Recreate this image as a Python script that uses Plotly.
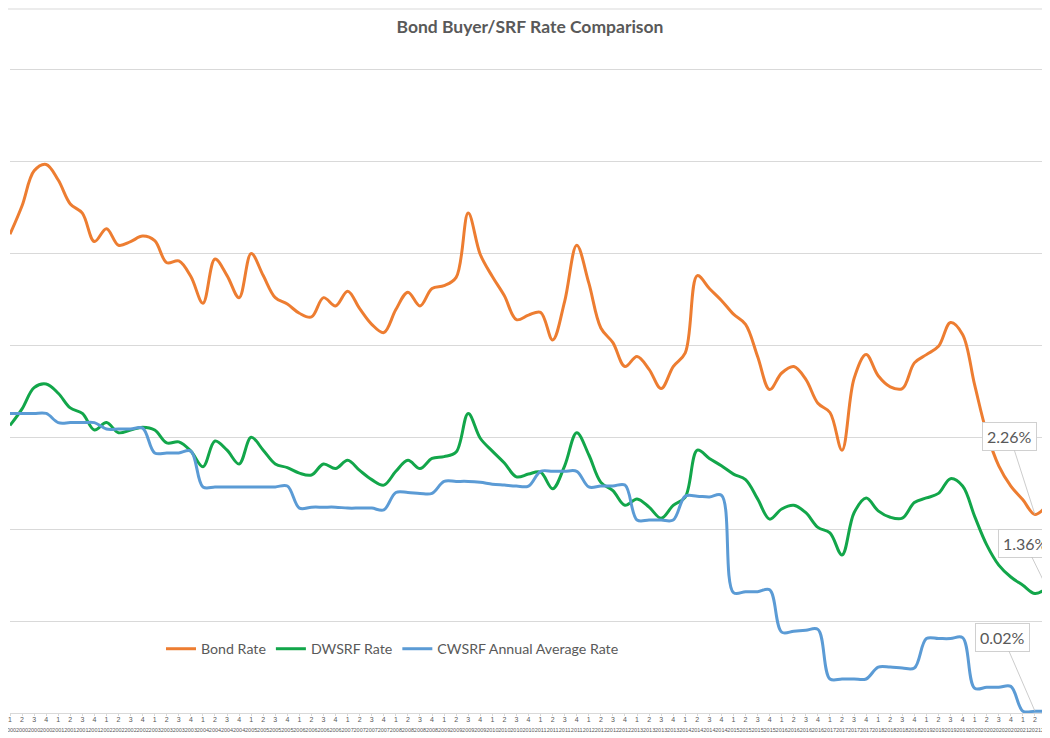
import plotly.graph_objects as go

# ---- category labels (quarters 2000 Q1 .. 2021 Q3) ----
quarter_nums = ["1", "2", "3", "4"]
year_list = [str(y) for y in range(2000, 2022)]
quarters = []
years = []
for y in year_list:
    for q in quarter_nums:
        quarters.append(q)
        years.append(y)
quarters = quarters[:87]
years = years[:87]
categories = [f"{y} Q{q}" for y, q in zip(years, quarters)]

# ---- series values (%) ----
bond_rate = [
    5.21, 5.52, 5.90, 5.97,
    5.80, 5.54, 5.44, 5.13,
    5.27, 5.09, 5.13, 5.19,
    5.14, 4.90, 4.92, 4.75,
    4.46, 4.94, 4.76, 4.52,
    5.00, 4.76, 4.52, 4.45,
    4.35, 4.31, 4.52, 4.43,
    4.59, 4.40, 4.23, 4.14,
    4.39, 4.58, 4.43, 4.62,
    4.65, 4.74, 5.44, 4.99,
    4.75, 4.54, 4.28, 4.33,
    4.36, 4.06, 4.48, 5.09,
    4.68, 4.19, 4.03, 3.77,
    3.88, 3.74, 3.53, 3.77,
    3.92, 4.76, 4.62, 4.49,
    4.34, 4.23, 3.88, 3.52,
    3.70, 3.77, 3.63, 3.37,
    3.27, 2.86, 3.64, 3.90,
    3.67, 3.55, 3.53, 3.81,
    3.90, 3.99, 4.25, 4.12,
    3.57, 3.05, 2.69, 2.47,
    2.32, 2.16, 2.26,
]

dwsrf_rate = [
    3.13, 3.31, 3.54, 3.58,
    3.48, 3.32, 3.26, 3.08,
    3.16, 3.05, 3.08, 3.11,
    3.08, 2.94, 2.95, 2.85,
    2.68, 2.96, 2.86, 2.71,
    3.00, 2.86, 2.71, 2.67,
    2.61, 2.59, 2.71, 2.66,
    2.75, 2.64, 2.54, 2.48,
    2.63, 2.75, 2.66, 2.77,
    2.79, 2.84, 3.26, 2.99,
    2.85, 2.72, 2.57, 2.60,
    2.62, 2.44, 2.69, 3.05,
    2.81, 2.51, 2.42, 2.26,
    2.33, 2.24, 2.12, 2.26,
    2.35, 2.86, 2.77, 2.69,
    2.60, 2.54, 2.33, 2.11,
    2.22, 2.26, 2.18, 2.02,
    1.96, 1.72, 2.18, 2.34,
    2.20, 2.13, 2.12, 2.29,
    2.34, 2.39, 2.55, 2.47,
    2.14, 1.83, 1.61, 1.48,
    1.39, 1.30, 1.36,
]

cwsrf_rate = [
    3.26, 3.26, 3.26, 3.26,
    3.16, 3.16, 3.16, 3.16,
    3.09, 3.09, 3.09, 3.10,
    2.83, 2.83, 2.83, 2.85,
    2.46, 2.46, 2.46, 2.46,
    2.46, 2.46, 2.46, 2.47,
    2.23, 2.24, 2.24, 2.24,
    2.23, 2.23, 2.23, 2.21,
    2.40, 2.40, 2.39, 2.39,
    2.52, 2.52, 2.52, 2.51,
    2.49, 2.48, 2.47, 2.47,
    2.63, 2.63, 2.63, 2.63,
    2.46, 2.47, 2.47, 2.48,
    2.10, 2.10, 2.10, 2.10,
    2.36, 2.36, 2.35, 2.37,
    1.31, 1.32, 1.32, 1.34,
    0.88, 0.89, 0.90, 0.91,
    0.37, 0.37, 0.37, 0.37,
    0.50, 0.50, 0.49, 0.49,
    0.81, 0.81, 0.81, 0.82,
    0.27, 0.28, 0.28, 0.29,
    0.02, 0.02, 0.02,
]

series_names = ["Bond Rate", "DWSRF Rate", "CWSRF Annual Average Rate"]
series_colors = ["#ED7D31", "#12A64A", "#5B9BD5"]
series_values = [bond_rate, dwsrf_rate, cwsrf_rate]

FONT = "Lato, 'Open Sans', sans-serif"
GRAY = "#595959"

# figure is placed by the page at an 8px offset; size it to fill the window
W, H = 1042, 730
YMAX = 7.03                 # a little headroom so the 7% gridline is drawn
PX_PER_UNIT = 91.86
L, R, B = 2, 3, 25
T = round(H - B - YMAX * PX_PER_UNIT)
PW = W - L - R
PH = H - T - B

fig = go.Figure()
for name, color, vals in zip(series_names, series_colors, series_values):
    fig.add_trace(go.Scatter(
        x=categories, y=vals, name=name, mode="lines",
        line=dict(color=color, width=3, shape="spline", smoothing=1.0),
        hoverinfo="skip",
    ))

ticktext = [f"{q}<br><span style='font-size:5.5px'>{y}</span>" for q, y in zip(quarters, years)]

fig.update_layout(
    width=W, height=H,
    margin=dict(l=L, r=R, t=T, b=B, autoexpand=False),
    paper_bgcolor="white", plot_bgcolor="white",
    font=dict(family=FONT, color=GRAY),
    title=dict(text="<b>Bond Buyer/SRF Rate Comparison</b>", x=522 / W, xref="container", xanchor="center",
               y=1 - 19 / H, yref="container", yanchor="middle",
               font=dict(family=FONT, size=17.5, color=GRAY)),
    xaxis=dict(
        type="category", range=[0, len(categories) - 1], automargin=False,
        tickmode="array", tickvals=categories, ticktext=ticktext, tickangle=0,
        tickfont=dict(family="Liberation Sans, Arial", size=7, color=GRAY),
        ticklabelstandoff=-2,
        showgrid=False, showline=True, linecolor="#d9d9d9", linewidth=1,
        ticks="outside", ticklen=2, tickcolor="#d9d9d9", zeroline=False,
    ),
    yaxis=dict(
        range=[0, YMAX], dtick=1, showticklabels=False, showgrid=True, automargin=False,
        gridcolor="#d9d9d9", gridwidth=1, zeroline=False, showline=False,
    ),
    legend=dict(
        orientation="h", x=(153 - L) / PW, xanchor="left", y=64 / PH, yanchor="middle",
        bgcolor="rgba(0,0,0,0)", font=dict(family=FONT, size=14.2, color=GRAY), itemwidth=30,
    ),
    showlegend=True,
)

# chart-area top border
fig.add_shape(type="line", xref="paper", yref="paper", x0=-L / PW, x1=1.01,
              y0=(H - B - 1) / PH, y1=(H - B - 1) / PH,
              line=dict(color="#d9d9d9", width=1))

# data callouts
callouts = [
    (categories[-2], bond_rate[-2], f"{bond_rate[-1]:.2f}%", -25, -78),
    (categories[-1], dwsrf_rate[-1], f"{dwsrf_rate[-1]:.2f}%", -22, -45),
    (categories[-2], cwsrf_rate[-2], f"{cwsrf_rate[-1]:.2f}%", -32, -74),
]
for cx, cy, txt, ax, ay in callouts:
    fig.add_annotation(
        x=cx, y=cy, text=txt, showarrow=True, arrowhead=0, arrowwidth=0.8, arrowcolor="#bfbfbf",
        ax=ax, ay=ay, bgcolor="white", bordercolor="#d0d0d0", borderwidth=1, borderpad=4,
        font=dict(family=FONT, size=16, color=GRAY),
    )

fig.write_html("out.html")
